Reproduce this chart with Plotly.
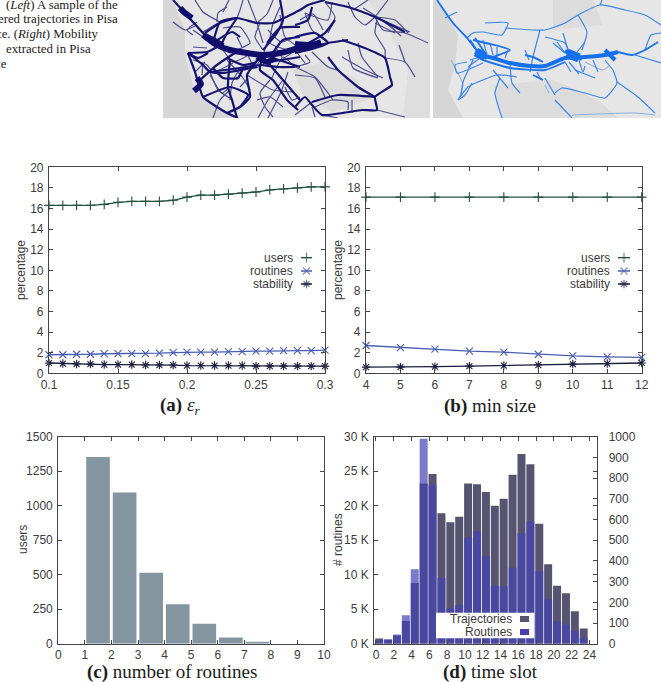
import plotly.graph_objects as go

W, H = 661, 682

# --- sweep over the routine radius ---
eps_r = [0.10, 0.11, 0.12, 0.13, 0.14, 0.15, 0.16, 0.17, 0.18, 0.19, 0.20,
         0.21, 0.22, 0.23, 0.24, 0.25, 0.26, 0.27, 0.28, 0.29, 0.30]
eps_users = [16.3, 16.3, 16.3, 16.3, 16.4, 16.6, 16.7, 16.7, 16.7, 16.8, 17.1,
             17.3, 17.3, 17.4, 17.5, 17.6, 17.8, 17.9, 18.0, 18.1, 18.1]
eps_routines = [1.8, 1.8, 1.85, 1.85, 1.9, 1.9, 1.9, 1.9, 1.95, 2.0, 2.05,
                2.05, 2.05, 2.1, 2.1, 2.15, 2.15, 2.2, 2.2, 2.2, 2.25]
eps_stability = [1.0, 0.95, 0.9, 0.9, 0.85, 0.85, 0.85, 0.8, 0.8, 0.8, 0.75,
                 0.75, 0.75, 0.75, 0.75, 0.7, 0.7, 0.7, 0.7, 0.7, 0.7]

# --- sweep over the minimum cluster size ---
min_size = [4, 5, 6, 7, 8, 9, 10, 11, 12]
size_users = [17.1, 17.1, 17.1, 17.1, 17.1, 17.1, 17.1, 17.1, 17.1]
size_routines = [2.7, 2.5, 2.35, 2.15, 2.05, 1.85, 1.7, 1.6, 1.55]
size_stability = [0.6, 0.6, 0.65, 0.7, 0.75, 0.8, 0.9, 0.95, 1.0]

# --- users per number of routines ---
routine_counts = [1, 2, 3, 4, 5, 6, 7]
users_per_count = [1352, 1095, 515, 285, 145, 45, 15]

# --- trajectories (left scale) and routines (right scale) per time slot ---
time_slots = list(range(24))
trajectories_k = [0.75, 0.6, 1.2, 3.3, 8.8, 23.2, 24.6, 18.9, 17.6, 18.4, 23.2, 23.1,
                  22.0, 20.0, 21.0, 24.5, 27.5, 26.0, 17.4, 11.5, 8.4, 7.3, 4.7, 2.2]
routines_n = [17, 20, 45, 137, 360, 990, 767, 317, 170, 187, 513, 543,
              423, 280, 277, 367, 533, 590, 350, 213, 107, 93, 63, 27]

left_k_ticks = [0, 5, 10, 15, 20, 25, 30]
left_k_labels = ["0 K", "5 K", "10 K", "15 K", "20 K", "25 K", "30 K"]

# --- caption beside the maps ---
caption_lines = ["(<i>Left</i>) A sample of the", "ered trajectories in Pisa",
                 "ce. (<i>Right</i>) Mobility", "extracted in Pisa", "ce"]

# --- road network of the raw trajectories (panel coordinates) ---
traj_hubs = [
    [(40, 35), (52, 44), (67, 50), (84, 53), (100, 55), (117, 53), (137, 48), (149, 47)],
    [(31, 91), (38, 84), (34, 78)],
    [(94, 57), (104, 62), (112, 58)],
    [(17, 8), (22, 13), (29, 18)],
    [(42, 36), (50, 40), (60, 46)],
    [(132, 44), (148, 45), (158, 42)],
]
traj_major = [
    [(10, 0), (22, 13), (30, 22), (40, 33), (50, 43)],
    [(149, 47), (165, 43), (185, 40)],
    [(25, 53), (44, 52), (54, 47)],
    [(25, 53), (32, 72), (35, 82), (40, 97), (64, 113), (75, 118)],
    [(35, 82), (50, 68), (64, 58), (77, 50)],
    [(50, 43), (57, 22), (74, 18), (94, 23), (110, 23), (137, 10), (145, 5), (162, 0)],
    [(67, 60), (65, 87), (69, 100), (74, 118)],
    [(97, 57), (84, 75), (87, 97), (77, 107), (64, 113)],
    [(100, 57), (120, 80), (137, 100)],
    [(47, 72), (77, 68), (97, 65), (114, 67), (132, 67)],
    [(162, 2), (185, 7), (212, 17), (242, 32)],
    [(179, 40), (199, 47), (222, 58), (227, 77), (229, 85), (212, 97), (214, 110), (199, 110),
     (159, 115), (149, 105), (142, 97), (132, 107)],
    [(212, 97), (175, 95), (149, 102)],
    [(165, 57), (175, 70), (195, 87), (212, 97)],
    [(100, 63), (137, 57)],
    [(117, 0), (120, 20), (114, 33), (100, 50)],
    [(25, 53), (40, 65), (47, 72), (60, 73), (94, 67)],
    [(50, 43), (69, 32), (77, 37)],
    [(40, 97), (67, 87), (85, 95), (77, 107)],
    [(100, 55), (97, 70), (110, 80), (124, 100), (135, 110)],
    [(132, 37), (152, 33), (165, 43), (145, 50), (132, 53)],
    [(74, 18), (57, 23), (42, 33)],
    [(74, 18), (64, 33), (59, 43)],
    [(137, 27), (117, 28), (104, 43)],
    [(137, 37), (120, 40), (107, 57)],
    [(107, 57), (137, 67)],
    [(94, 62), (80, 65), (64, 58)],
    [(50, 68), (60, 78), (75, 78), (80, 68)],
    [(25, 53), (35, 58), (45, 53)],
    [(132, 45), (145, 43), (162, 33), (172, 20)],
    [(132, 25), (145, 20), (149, 7)],
]
traj_minor = [
    [(94, 23), (100, 43)],
    [(74, 18), (77, 10), (80, 0)],
    [(74, 50), (87, 43), (77, 27), (60, 28)],
    [(212, 17), (220, 30), (242, 33), (265, 43)],
    [(212, 17), (225, 0)],
    [(222, 58), (242, 62), (252, 77)],
    [(132, 67), (152, 77), (165, 93), (170, 100)],
    [(214, 110), (242, 117)],
    [(165, 33), (172, 17), (162, 2)],
    [(142, 13), (149, 30), (165, 43)],
    [(190, 10), (205, 0)],
    [(200, 8), (222, 22), (238, 36)],
    [(30, 60), (44, 65), (50, 72), (70, 63)],
    [(84, 75), (110, 90), (130, 92)],
    [(32, 0), (40, 12), (57, 22)],
    [(47, 72), (55, 90), (70, 100)],
    [(120, 80), (105, 100), (95, 118)],
    [(159, 115), (175, 118)],
    [(132, 67), (120, 57), (108, 80)],
    [(185, 50), (190, 68), (215, 78)],
    [(242, 62), (236, 45)],
    [(64, 60), (80, 78), (87, 90)],
    [(77, 68), (69, 83), (67, 100)],
    [(104, 43), (100, 55), (94, 65)],
    [(110, 23), (107, 43), (124, 50)],
    [(117, 15), (122, 37), (137, 48)],
    [(30, 30), (40, 37)],
    [(94, 100), (107, 97), (120, 107)],
    [(55, 23), (40, 32)],
    [(142, 55), (147, 62), (132, 67)],
    [(132, 75), (152, 78), (162, 97)],
    [(169, 2), (165, 20), (142, 13)],
    [(185, 2), (192, 17), (202, 25), (212, 17)],
    [(214, 20), (212, 33), (222, 50), (222, 58)],
    [(212, 17), (232, 20), (245, 33)],
    [(216, 18), (232, 30)],
    [(149, 102), (132, 115)],
    [(149, 107), (152, 117)],
    [(189, 100), (189, 113)],
    [(179, 57), (202, 70), (220, 78)],
    [(30, 47), (44, 48)],
    [(47, 72), (40, 78), (35, 82)],
    [(60, 12), (66, 0)],
    [(10, 22), (22, 30), (32, 26)],
    [(85, 0), (94, 23)],
    [(110, 0), (104, 14), (94, 23)],
    [(125, 72), (118, 92), (105, 118)],
    [(50, 118), (57, 100), (67, 90)],
    [(137, 20), (150, 14), (160, 30)],
    [(105, 30), (118, 42), (132, 37)],
    [(34, 22), (24, 30), (30, 35)],
    [(54, 22), (55, 13), (64, 7)],
    [(74, 37), (79, 47)],
    [(97, 23), (92, 37), (100, 50)],
    [(110, 23), (117, 7)],
    [(40, 62), (39, 75)],
    [(32, 72), (42, 62)],
    [(47, 75), (59, 93), (67, 87)],
    [(77, 87), (85, 78)],
    [(107, 80), (97, 93), (102, 107), (110, 117)],
    [(122, 87), (129, 100), (137, 97)],
    [(132, 50), (142, 63)],
    [(149, 52), (165, 67), (174, 70)],
    [(195, 43), (199, 57), (215, 77)],
    [(219, 20), (247, 32)],
    [(212, 23), (232, 33)],
    [(152, 107), (169, 100), (185, 102), (185, 110)],
    [(84, 53), (92, 68), (104, 62)],
    [(60, 50), (70, 62), (84, 56)],
    [(112, 46), (120, 58), (130, 52)],
]

# --- mobility routines (panel coordinates) ---
route_hubs = [
    [(44, 54), (60, 58), (77, 63), (97, 66), (112, 66), (132, 58), (152, 57), (172, 55), (185, 52)],
    [(132, 51), (149, 59)],
    [(42, 52), (54, 58)],
    [(172, 50), (182, 60)],
]
route_blobs = [
    [(43, 52), (52, 57)],
    [(134, 53), (146, 58)],
]
route_major = [
    [(4, 0), (20, 23), (34, 38), (47, 55)],
    [(40, 40), (77, 50), (60, 57)],
    [(50, 60), (77, 68), (112, 70), (132, 62)],
    [(185, 52), (199, 55), (212, 50), (225, 42)],
    [(92, 55), (100, 57), (110, 62)],
    [(100, 75), (110, 80)],
    [(37, 40), (47, 55)],
    [(42, 38), (52, 53)],
]
route_minor = [
    [(34, 38), (40, 33), (50, 32), (69, 35), (75, 23), (52, 23)],
    [(72, 28), (112, 30), (132, 23), (145, 15), (167, 5), (192, 10), (212, 15), (228, 25)],
    [(167, 5), (169, 0)],
    [(145, 15), (154, 32), (149, 50)],
    [(50, 63), (24, 73), (22, 65), (34, 62)],
    [(25, 100), (35, 87), (64, 75), (84, 77)],
    [(25, 100), (32, 95), (39, 83)],
    [(60, 70), (75, 88)],
    [(67, 78), (62, 93), (69, 118)],
    [(77, 63), (79, 83), (87, 93)],
    [(107, 30), (100, 57), (97, 72)],
    [(112, 78), (122, 95)],
    [(122, 93), (129, 88), (152, 93), (172, 98), (184, 83), (180, 70)],
    [(184, 82), (205, 97), (222, 113)],
    [(122, 100), (139, 118)],
    [(142, 70), (162, 78)],
    [(130, 33), (135, 50)],
    [(152, 42), (144, 52)],
    [(112, 37), (132, 43), (135, 50)],
    [(202, 55), (228, 63)],
    [(212, 50), (218, 35), (228, 33)],
    [(146, 60), (150, 72), (152, 66)],
    [(160, 60), (165, 72)],
    [(172, 60), (180, 70)],
    [(50, 40), (54, 55)],
    [(57, 43), (60, 55)],
    [(64, 47), (64, 57)],
    [(75, 50), (72, 58)],
    [(37, 60), (47, 57)],
    [(35, 67), (47, 58)],
    [(120, 43), (132, 53)],
    [(132, 53), (124, 42)],
    [(12, 18), (24, 12)],
    [(40, 60), (30, 82), (28, 96)],
    [(92, 50), (96, 60)],
    [(104, 72), (108, 80)],
    [(132, 62), (138, 72)],
    [(136, 62), (146, 74)],
]
route_faint = [
    [(139, 115), (202, 113), (222, 115)],
    [(18, 60), (30, 85), (25, 100)],
    [(112, 85), (116, 93)],
    [(152, 62), (170, 70), (176, 66)],
]

# --- sea and relief areas behind the roads (panel coordinates) ---
left_sea = [(0, 0), (10, 0), (22, 30), (22, 55), (30, 85), (42, 100), (70, 118), (0, 118)]
left_relief = [(130, 70), (160, 62), (195, 80), (205, 100), (170, 112), (140, 95)]
left_relief2 = [(205, 0), (267, 0), (267, 118), (240, 118), (245, 70), (225, 30)]
right_sea = [(0, 0), (5, 0), (25, 35), (22, 65), (15, 90), (30, 118), (0, 118)]
right_relief = [(60, 85), (120, 80), (165, 100), (185, 118), (70, 118)]
right_relief2 = [(120, 0), (160, 0), (170, 25), (120, 30)]

INK = "#444444"
TICK_FONT = dict(family="Liberation Sans, Arial, sans-serif", size=12, color="#3c3c3c")
SERIF = "Liberation Serif, Times New Roman, serif"
USERS_C, ROUTINES_C, STABILITY_C = "#23523f", "#4a5fb0", "#1d1d3f"
SYMBOLS = dict(users="cross-thin", routines="x-thin", stability="asterisk")


def dom_x(left, right):
    return [left / W, right / W]


def dom_y(top, bottom):
    return [1 - bottom / H, 1 - top / H]


def frame_axis(**kw):
    base = dict(showgrid=False, zeroline=False, showline=True, linecolor=INK, linewidth=1.2,
                mirror="ticks", ticks="inside", ticklen=4, tickwidth=1, tickcolor=INK,
                tickfont=TICK_FONT)
    base.update(kw)
    return base


fig = go.Figure()

# panels (a) and (b): line charts with a hand-placed key
LINE_PANELS = [
    dict(xa="x", ya="y", box=(49, 325, 167.3, 373.3), xr=[0.1, 0.3], tick=0.05,
         x=eps_r, users=eps_users, routines=eps_routines, stability=eps_stability,
         key_text=294.7, key_line=(301, 312)),
    dict(xa="x2", ya="y2", box=(366, 641.7, 167.3, 373.3), xr=[4, 12], tick=1,
         x=min_size, users=size_users, routines=size_routines, stability=size_stability,
         key_text=611.7, key_line=(618, 630)),
]

annotations = []
for p in LINE_PANELS:
    l, r, t, b = p["box"]
    xscale = (p["xr"][1] - p["xr"][0]) / (r - l)
    yscale = 20 / (b - t)
    for name, color, key_y in [("users", USERS_C, 257.7), ("routines", ROUTINES_C, 271),
                               ("stability", STABILITY_C, 284)]:
        fig.add_trace(go.Scatter(
            x=p["x"], y=p[name], mode="lines+markers", xaxis=p["xa"], yaxis=p["ya"],
            name=name, cliponaxis=False, line=dict(color=color, width=1.3),
            marker=dict(symbol=SYMBOLS[name], size=7, color=color, line=dict(color=color, width=1.1))))
        # key sample: short stroke with one marker in its middle
        kx0, kx1 = p["key_line"]
        to_x = lambda px: p["xr"][0] + (px - l) * xscale
        ky = (b - key_y) * yscale
        fig.add_trace(go.Scatter(
            x=[to_x(kx0), to_x((kx0 + kx1) / 2), to_x(kx1)], y=[ky, ky, ky],
            mode="lines+markers", xaxis=p["xa"], yaxis=p["ya"], showlegend=False,
            line=dict(color=color, width=1.3),
            marker=dict(symbol=SYMBOLS[name], size=[0, 7, 0], color=color, line=dict(color=color, width=1.1))))
        annotations.append(dict(
            xref="paper", yref="paper", x=p["key_text"] / W, y=1 - key_y / H, text=name,
            showarrow=False, xanchor="right", yanchor="middle", font=TICK_FONT))

# panel (c)
fig.add_trace(go.Bar(x=routine_counts, y=users_per_count, xaxis="x3", yaxis="y3",
                     width=0.89, offset=0.05, marker=dict(color="#84959f", line=dict(width=0))))

# panel (d): routines sit on a second scale and are drawn over the trajectories
fig.add_trace(go.Bar(x=time_slots, y=trajectories_k, name="Trajectories", xaxis="x4", yaxis="y4",
                     width=0.9, offset=-0.09, marker=dict(color="#565470", line=dict(width=0))))
fig.add_trace(go.Bar(x=time_slots, y=routines_n, name="Routines", xaxis="x4", yaxis="y5",
                     width=0.9, offset=-0.09, marker=dict(color="rgba(68,65,181,0.7)", line=dict(width=0))))


def path_trace(paths, color, width, xa, ya, opacity=1.0):
    xs, ys = [], []
    for path in paths:
        xs += [pt[0] for pt in path] + [None]
        ys += [pt[1] for pt in path] + [None]
    return go.Scatter(x=xs, y=ys, mode="lines", xaxis=xa, yaxis=ya, opacity=opacity,
                      line=dict(color=color, width=width, shape="spline", smoothing=0.5),
                      hoverinfo="skip")


def area_trace(points, color, xa, ya):
    return go.Scatter(x=[pt[0] for pt in points], y=[pt[1] for pt in points], mode="lines",
                      fill="toself", fillcolor=color, line=dict(width=0), xaxis=xa, yaxis=ya,
                      hoverinfo="skip")


# maps: sea and relief first, then roads from thin to thick
for pts, col in [(left_sea, "#d6d6d6"), (left_relief, "#dcdcdc"), (left_relief2, "#dedede")]:
    fig.add_trace(area_trace(pts, col, "x5", "y6"))
fig.add_trace(path_trace(traj_minor, "#35347f", 1.2, "x5", "y6", 0.85))
fig.add_trace(path_trace(traj_major, "#17126f", 2.2, "x5", "y6"))
fig.add_trace(path_trace(traj_hubs, "#120d6b", 6.0, "x5", "y6"))

for pts, col in [(right_sea, "#d6d6d6"), (right_relief, "#dcdcdc"), (right_relief2, "#dcdcdc")]:
    fig.add_trace(area_trace(pts, col, "x6", "y7"))
fig.add_trace(path_trace(route_faint, "#7fa8e0", 0.9, "x6", "y7"))
fig.add_trace(path_trace(route_minor, "#3d87e8", 1.2, "x6", "y7"))
fig.add_trace(path_trace(route_major, "#1f74ea", 1.9, "x6", "y7"))
fig.add_trace(path_trace(route_hubs, "#1570ec", 4.0, "x6", "y7"))
fig.add_trace(path_trace(route_blobs, "#1570ec", 9.0, "x6", "y7"))

# text beside the maps
for text, right, base in zip(caption_lines, [120, 120, 101, 93, 9], [9, 23, 38, 53, 68]):
    annotations.append(dict(xref="paper", yref="paper", x=right / W, y=1 - (base - 4) / H, text=text,
                            showarrow=False, xanchor="right", yanchor="middle",
                            font=dict(family=SERIF, size=12.8, color="#222222")))

# sub-figure captions
for cap, cx, cy in [("<b>(a)</b> <i>ε</i><sub><i>r</i></sub>", 180, 406), ("<b>(b)</b> min size", 490, 406),
                    ("<b>(c)</b> number of routines", 172, 671.5), ("<b>(d)</b> time slot", 490, 671.5)]:
    annotations.append(dict(xref="paper", yref="paper", x=cx / W, y=1 - cy / H, text=cap,
                            showarrow=False, xanchor="center", yanchor="middle",
                            font=dict(family=SERIF, size=19, color="#1c1c1c")))

# rotated scale titles
for text, cx, cy in [("percentage", 21, 270), ("percentage", 338, 270), ("users", 23, 540), ("# routines", 338, 540)]:
    annotations.append(dict(xref="paper", yref="paper", x=cx / W, y=1 - cy / H, text=text, textangle=-90,
                            showarrow=False, xanchor="center", yanchor="middle", font=TICK_FONT))

# key of panel (d): text left of the swatches, on a white box
shapes = [
    dict(type="rect", xref="paper", yref="paper", x0=436 / W, x1=534.3 / W, y0=1 - 638.3 / H, y1=1 - 612.7 / H,
         fillcolor="white", line=dict(width=0), layer="above"),
    dict(type="rect", xref="paper", yref="paper", x0=520 / W, x1=529 / W, y0=1 - 622 / H, y1=1 - 616 / H,
         fillcolor="#565470", line=dict(width=0), layer="above"),
    dict(type="rect", xref="paper", yref="paper", x0=520 / W, x1=529 / W, y0=1 - 635 / H, y1=1 - 629 / H,
         fillcolor="#4a3fa8", line=dict(width=0), layer="above"),
]
for text, ky in [("Trajectories", 619), ("Routines", 632)]:
    annotations.append(dict(xref="paper", yref="paper", x=513.5 / W, y=1 - ky / H, text=text,
                            showarrow=False, xanchor="right", yanchor="middle", font=TICK_FONT))

# map backgrounds
for xa, ya in [("x5", "y6"), ("x6", "y7")]:
    shapes.append(dict(type="rect", xref=xa, yref=ya, x0=0, x1=300, y0=0, y1=118,
                       fillcolor="#e6e6e6", line=dict(width=0), layer="below"))

fig.update_layout(
    width=W, height=H, autosize=False, showlegend=False, barmode="overlay",
    margin=dict(l=0, r=0, t=0, b=0, pad=0, autoexpand=False), paper_bgcolor="white", plot_bgcolor="white",
    annotations=annotations, shapes=shapes,
    xaxis=frame_axis(domain=dom_x(49, 325), range=[0.1, 0.3], dtick=0.05, tick0=0.1, anchor="y", tickformat="~g"),
    yaxis=frame_axis(domain=dom_y(167.3, 373.3), range=[0, 20], dtick=2, anchor="x", ticklabelstandoff=2),
    xaxis2=frame_axis(domain=dom_x(366, 641.7), range=[4, 12], dtick=1, anchor="y2"),
    yaxis2=frame_axis(domain=dom_y(167.3, 373.3), range=[0, 20], dtick=2, anchor="x2", ticklabelstandoff=2),
    xaxis3=frame_axis(domain=dom_x(58.3, 324), range=[0, 10], dtick=1, anchor="y3"),
    yaxis3=frame_axis(domain=dom_y(436.7, 643.7), range=[0, 1500], dtick=250, anchor="x3", ticklabelstandoff=2),
    xaxis4=frame_axis(domain=dom_x(374.3, 596.7), range=[-0.19, 24.82], tickvals=list(range(0, 25, 2)),
                      anchor="y4"),
    yaxis4=frame_axis(domain=dom_y(436.7, 643.7), range=[0, 30], tickvals=left_k_ticks, ticktext=left_k_labels,
                      anchor="x4", ticklabelstandoff=2),
    yaxis5=frame_axis(domain=dom_y(436.7, 643.7), range=[0, 1000], dtick=100, anchor="x4", overlaying="y4",
                      side="right", mirror=False, showline=False, ticklabelstandoff=11),
    xaxis5=dict(domain=dom_x(163, 430), range=[0, 267], visible=False, anchor="y6", fixedrange=True),
    yaxis6=dict(domain=dom_y(0, 118), range=[118, 0], visible=False, anchor="x5", fixedrange=True),
    xaxis6=dict(domain=dom_x(433, 661), range=[0, 228], visible=False, anchor="y7", fixedrange=True),
    yaxis7=dict(domain=dom_y(0, 118), range=[118, 0], visible=False, anchor="x6", fixedrange=True),
)

fig.write_html("out.html")
